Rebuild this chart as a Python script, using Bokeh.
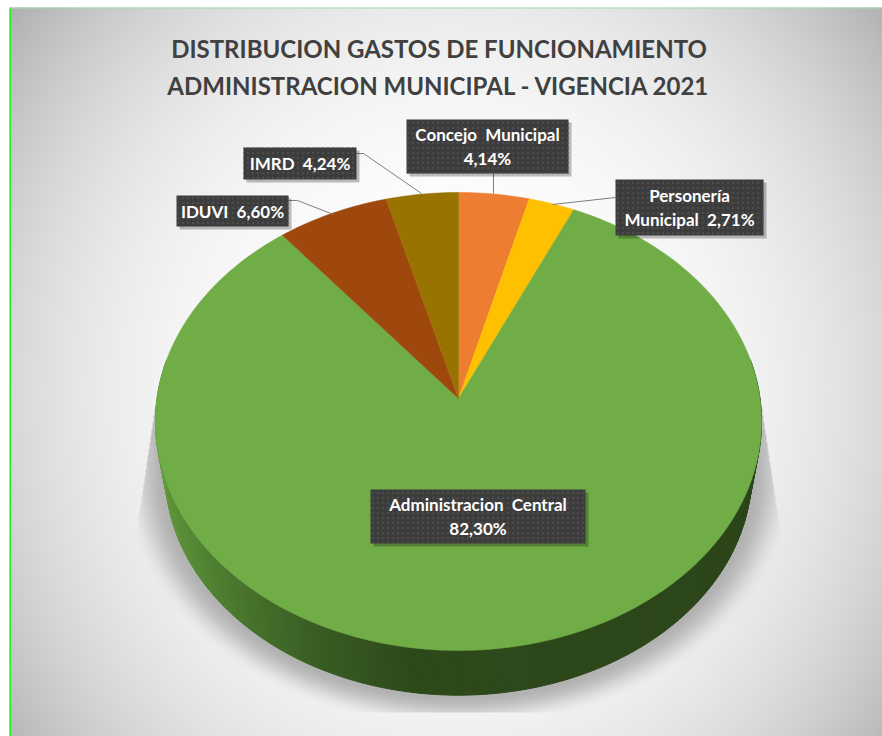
import numpy as np
from bokeh.plotting import figure
from bokeh.models import Range1d
from bokeh.embed import file_html
from bokeh.resources import INLINE
from bokeh.core.properties import value

# ---- data ----
categories = ["Concejo Municipal", "Personería Municipal", "Administracion Central", "IDUVI", "IMRD"]
shares = [4.14, 2.71, 82.30, 6.60, 4.24]
colors = ["#ED7D31", "#FFC000", "#70AD47", "#9E480E", "#997300"]
title_lines = ["DISTRIBUCION GASTOS DE FUNCIONAMIENTO", "ADMINISTRACION MUNICIPAL - VIGENCIA 2021"]

# Bokeh's page template sets the body margin to zero, so figure pixels are page pixels
W, H = 882, 736
def fy(y):
    return H - np.asarray(y, dtype=float)

p = figure(width=W, height=H, x_range=Range1d(0, W), y_range=Range1d(0, H),
           output_backend="svg", toolbar_location=None, min_border=0)
p.axis.visible = False
p.grid.visible = False
p.outline_line_color = None
p.background_fill_color = None
p.border_fill_color = None

# ---- background with soft shadow ----
xs = np.arange(W) + 0.5
ys = np.arange(H) + 0.5
X, Yg = np.meshgrid(xs, ys)
r = np.sqrt(((X - 450.0) / 620.0) ** 2 + ((Yg - 390.0) / 680.0) ** 2)
bg = np.clip(255.0 - 105.0 * r ** 2.86, 170, 255)
# shadow: blurred copy of the lower rim, cut by two straight lines and a floor
e = np.sqrt(((X - 458.0) / 293.0) ** 2 + (np.clip(Yg - 473.0, 0, None) / 222.0) ** 2)
s = np.clip((1.15 - e) / 0.15, 0, 1)
s = s * s * (3 - 2 * s)
half = 303.0 + np.clip(Yg - 405.0, 0, None) * 22.0 / 148.0
s = s * (np.abs(X - 458.0) < half) * (Yg > 405) * (Yg < 712)
gray = bg * (1 - s) + 178.0 * s
gray[:7, :] = 255
gray[:, :9] = 255
gray8 = gray.astype(np.uint32)
rgba = np.uint32(255 << 24) | (gray8 << 16) | (gray8 << 8) | gray8
rgba = np.flipud(rgba).copy().astype(np.uint32)
p.image_rgba(image=[rgba], x=0, y=0, dw=W, dh=H)

# left edge and top edge lines
p.line([9.75, 9.75], fy([7, 736]).tolist(), line_color="#22ee22", line_width=1.5)
p.line([9, 882], fy([7.5, 7.5]).tolist(), line_color="#a9d8a9", line_width=1)

# ---- pie geometry (perspective disc) ----
CX, CY = 458.0, 398.0
R, S_, K = 301.5, 226.7, 0.1004
def rim(theta, cy=CY, scale=1.0):
    u, v = np.sin(theta), np.cos(theta)
    d = 1 + K * v
    return CX + scale * R * u / d, cy - scale * S_ * v / d

# side wall
DEPTH_Y, DEPTH_S = 451.0, 0.967
side_stops = [(-1.0, (98, 156, 60)), (-0.75, (78, 125, 48)), (-0.45, (58, 94, 36)),
              (-0.15, (46, 74, 27)), (1.0, (43, 69, 25))]
thetas = np.radians(np.linspace(80, 280, 201))
sx, sy, sc = [], [], []
for a, b in zip(thetas[:-1], thetas[1:]):
    x1, y1 = rim(np.array([a, b]))
    x2, y2 = rim(np.array([b, a]), DEPTH_Y, DEPTH_S)
    sx.append(np.concatenate([x1, x2]).tolist())
    sy.append(fy(np.concatenate([y1, y2])).tolist())
    um = np.sin((a + b) / 2)
    rgb = [np.interp(um, [q[0] for q in side_stops], [q[1][i] for q in side_stops]) for i in range(3)]
    sc.append("#%02x%02x%02x" % tuple(int(c) for c in rgb))
p.patches(sx, sy, fill_color=sc, line_color=sc, line_width=1)

# top face, wedges from the shares
cum = np.concatenate([[0], np.cumsum(shares)]) / sum(shares)
wx, wy = [], []
for a, b in zip(cum[:-1], cum[1:]):
    t = 2 * np.pi * np.linspace(a, b, max(8, int((b - a) * 400)))
    x, y = rim(t)
    wx.append([CX] + x.tolist())
    wy.append(fy(np.r_[CY, y]).tolist())
p.patches(wx, wy, fill_color=colors, line_color=colors, line_width=0.5)

# ---- leader lines ----
leaders = [[(493, 173), (493, 193)],
           [(615, 197), (552, 204)],
           [(288, 200), (297, 200), (333, 214)],
           [(356, 153), (363, 153), (421, 193)]]
for pts in leaders:
    p.line([q[0] for q in pts], fy([q[1] for q in pts]).tolist(), line_color="#7f7f7f", line_width=1)

# ---- labels ----
NB = "\u00a0"
def pct(v):
    return f"{v:.2f}".replace(".", ",") + "%"
def gap(s):
    return s.replace(" ", NB + NB)
label_lines = [
    [gap(categories[0]), pct(shares[0])],
    ["Personería", "Municipal" + NB + NB + pct(shares[1])],
    [gap(categories[2]), pct(shares[2])],
    [categories[3] + NB + NB + pct(shares[3])],
    [categories[4] + NB + NB + pct(shares[4])],
]
boxes = [(406, 568, 119, 173), (615, 763, 179, 235), (370, 585, 489, 543),
         (176, 288, 195, 226), (243, 356, 147, 179)]
for (x0, x1, y0, y1), lines in zip(boxes, label_lines):
    p.quad(left=x0 + 3, right=x1 + 3, top=fy(y0 + 3).item(), bottom=fy(y1 + 3).item(),
           fill_color="#000000", fill_alpha=0.25, line_color=None)
    p.quad(left=x0, right=x1, top=fy(y0).item(), bottom=fy(y1).item(), fill_color="#3c3c3c", line_color=None,
           hatch_pattern="dot", hatch_color="#4c4c4c", hatch_scale=5, hatch_weight=1)
    n = len(lines)
    for i, line in enumerate(lines):
        yc = (y0 + y1) / 2 + (i - (n - 1) / 2) * 23.5
        p.text([(x0 + x1) / 2], fy([yc]).tolist(), text=[line], text_color="#ffffff",
               text_font=value("Lato"), text_font_style="bold", text_font_size=value("17px"),
               text_align="center", text_baseline="middle")

# ---- title ----
for line, yc in zip(title_lines, [48, 85]):
    p.text([438.5], fy([yc]).tolist(), text=[line], text_color="#404040",
           text_font=value("Lato"), text_font_style="bold", text_font_size=value("24px"),
           text_align="center", text_baseline="middle")

open("out.html", "w").write(file_html(p, INLINE))
